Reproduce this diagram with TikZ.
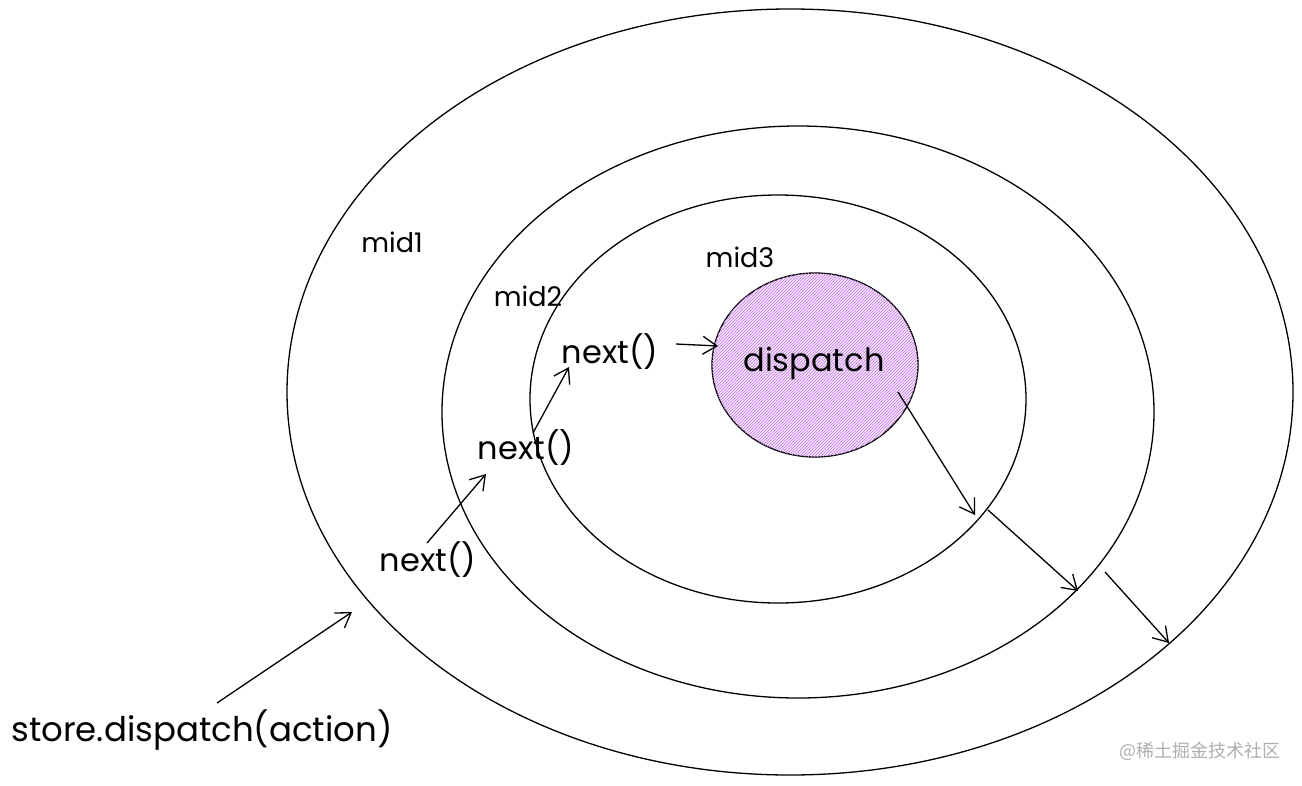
\documentclass[tikz,border=0pt]{standalone}
\usepackage{fontspec}
\setmainfont{Poppins}
\newfontfamily\cjkfont{Noto Sans CJK SC}
\usetikzlibrary{shapes.geometric,arrows.meta,patterns,calc}
\definecolor{hatch}{RGB}{196,128,226}
\definecolor{hatchbg}{RGB}{244,226,250}
\definecolor{wm}{RGB}{175,175,175}
\tikzset{
  ring/.style={draw=black,line width=1.3pt,ellipse,inner sep=0pt},
  lbl/.style={inner sep=1pt,text=black},
  midlbl/.style={lbl,font=\fontsize{27}{32}\selectfont},
  nextlbl/.style={lbl,font=\fontsize{32}{38}\selectfont},
  arr/.style={draw=black,line width=1.3pt,-{Straight Barb[length=14pt,width=18pt,line width=1.3pt]}},
}
\begin{document}
\begin{tikzpicture}[x=1pt,y=-1pt]
\useasboundingbox (0,0) rectangle (1302,785);
\fill[white] (0,0) rectangle (1302,785);
% rings
\node[ring,minimum width=1006pt,minimum height=766pt] (outer) at (790,392) {};
\node[ring,minimum width=712pt,minimum height=572pt] (middle) at (798,412) {};
\node[ring,minimum width=496pt,minimum height=408pt] (inner) at (778,399) {};
% dispatch core
\node[ellipse,inner sep=0pt,minimum width=206pt,minimum height=184pt,
      fill=hatchbg,postaction={pattern=north east lines,pattern color=hatch},
      draw=black,line width=1.3pt] (core) at (815,365) {};
\node[nextlbl] (disp) at (814,363) {dispatch};
% labels
\node[midlbl] (mid1) at (392,242) {mid1};
\node[midlbl] (mid2) at (528,296) {mid2};
\node[midlbl] (mid3) at (740,257) {mid3};
\node[nextlbl] (nextC) at (610,352) {next()};
\node[nextlbl] (nextB) at (526,448) {next()};
\node[nextlbl] (nextA) at (428,560) {next()};
\node[lbl,font=\fontsize{34}{40}\selectfont] (store) at (202,730) {store.dispatch(action)};
\node[text=wm,font=\cjkfont\fontsize{18}{21}\selectfont,inner sep=0pt] (wmark) at (1200,751) {@稀土掘金技术社区};
% connector ends
\coordinate (sA) at (217,703);
\coordinate (eA) at (352,612);
\coordinate (sB) at (427,543);
\coordinate (eB) at (486,474);
\coordinate (sC) at (533,433);
\coordinate (eC) at (569,367);
\coordinate (sD) at (676,344);
\coordinate (eD) at (718,346);
\coordinate (sE) at (898,392);
\coordinate (eE) at (975,515);
\coordinate (sF) at (988,510);
\coordinate (eF) at (1078,591);
\coordinate (sG) at (1105,572);
\coordinate (eG) at (1169,643);
\draw[arr] (sA) -- (eA);
\draw[arr] (sB) -- (eB);
\draw[arr] (sC) -- (eC);
\draw[arr] (sD) -- (eD);
\draw[arr] (sE) -- (eE);
\draw[arr] (sF) -- (eF);
\draw[arr] (sG) -- (eG);
\end{tikzpicture}
\end{document}
